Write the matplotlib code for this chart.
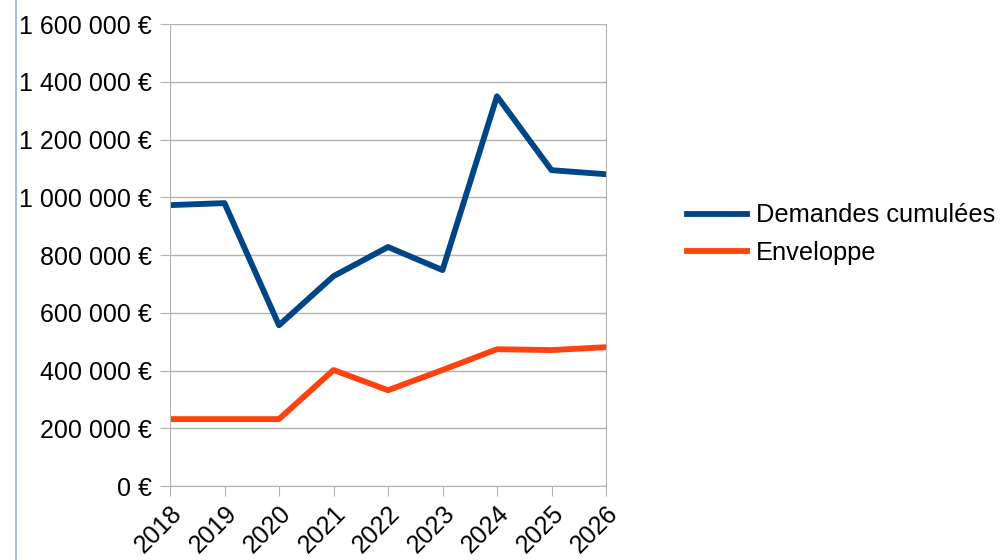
import matplotlib.pyplot as plt
from matplotlib.lines import Line2D

plt.rcParams['font.family'] = ['Liberation Sans', 'DejaVu Sans']

years = ['2018', '2019', '2020', '2021', '2022', '2023', '2024', '2025', '2026']
demandes = [973000, 980000, 557000, 727000, 828000, 748000, 1350000, 1094000, 1080000]
enveloppe = [232000, 232000, 232000, 402000, 332000, 402000, 474000, 471000, 481000]
yticks = [0, 200000, 400000, 600000, 800000, 1000000, 1200000, 1400000, 1600000]

fig = plt.figure(figsize=(10, 5.6), dpi=100)
ax = fig.add_axes([0.17, 0.132, 0.436, 0.825])

x = range(len(years))
ax.plot(x, demandes, color='#004586', lw=4.2, label='Demandes cumulées')
ax.plot(x, enveloppe, color='#ff420e', lw=4.2, label='Enveloppe')

ax.set_xlim(0, len(years) - 1)
ax.set_ylim(0, 1600000)
ax.set_yticks(yticks)
ax.set_yticklabels([f"{v:,} €".replace(',', ' ') for v in yticks], fontsize=18)
ax.set_xticks(list(x))
ax.set_xticklabels(years, rotation=45, ha='right', rotation_mode='anchor', fontsize=18)

ax.grid(axis='y', color='#b3b3b3', lw=1)
ax.set_axisbelow(True)
for s in ['left', 'right', 'bottom']:
    ax.spines[s].set_color('#b3b3b3')
ax.spines['top'].set_visible(False)
ax.tick_params(axis='both', length=7, color='#b3b3b3', pad=4)
ax.tick_params(axis='y', pad=6)

fig.add_artist(Line2D([0.016, 0.016], [0, 1], color='#a6bcd9', lw=1.5))

fig.legend(loc='center left', bbox_to_anchor=(0.687, 0.582), frameon=False,
           fontsize=18.3, handlelength=2.35, handletextpad=0.36, labelspacing=0.52,
           borderpad=0, borderaxespad=0)

fig.savefig('out.png', dpi=100)
